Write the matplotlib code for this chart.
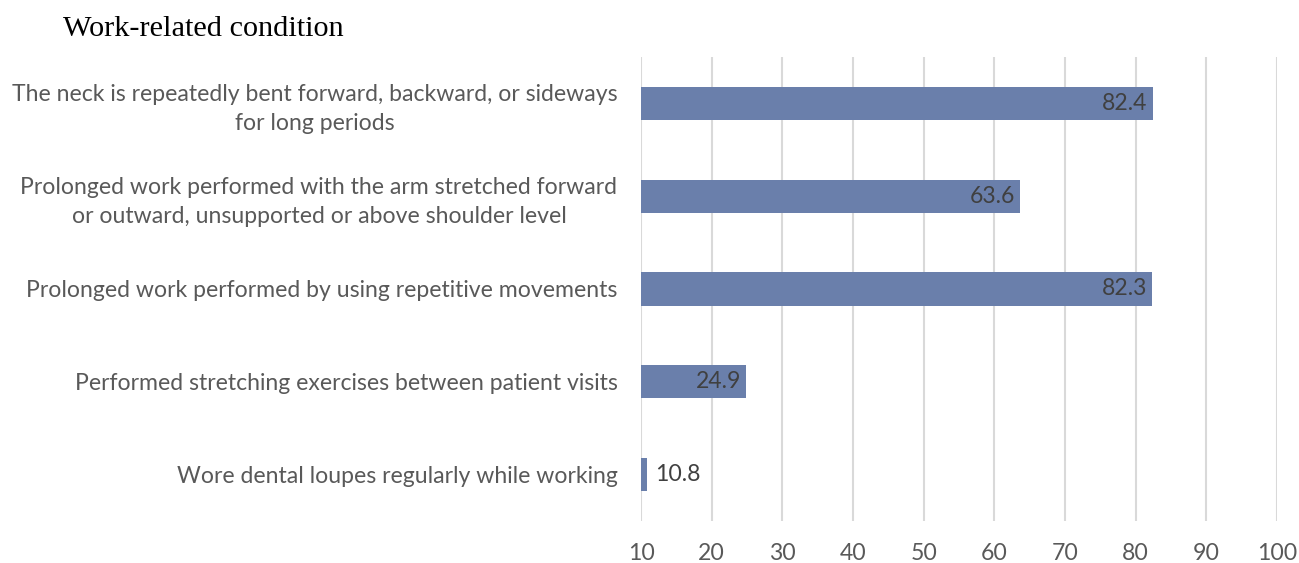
import matplotlib
matplotlib.use("Agg")
import matplotlib.pyplot as plt

categories = [
    "The neck is repeatedly bent forward, backward, or sideways\nfor long periods",
    "Prolonged work performed with the arm stretched forward\nor outward, unsupported or above shoulder level",
    "Prolonged work performed by using repetitive movements",
    "Performed stretching exercises between patient visits",
    "Wore dental loupes regularly while working",
]
values = [82.4, 63.6, 82.3, 24.9, 10.8]
xticks = [10, 20, 30, 40, 50, 60, 70, 80, 90, 100]
title = "Work-related condition"

BAR = "#6A7FAB"
GRID = "#D9D9D9"
TXT = "#595959"
LBL = "#404040"
FS = 16.6

fig = plt.figure(figsize=(12.99, 5.63), dpi=100)
ax = fig.add_axes([0.4935, 0.0746, 0.4895, 0.8242])

ypos = list(range(len(categories)))
ax.barh(ypos, [v - 10 for v in values], left=10, height=0.356, color=BAR, zorder=3)
ax.set_xlim(10, 100)
ax.set_ylim(len(categories) - 0.5, -0.5)
ax.set_xticks(xticks)
ax.set_xticklabels([str(t) for t in xticks], fontsize=FS, color=TXT, family="Lato")
ax.set_yticks(ypos)
ax.set_yticklabels(categories, fontsize=FS, color=TXT, family="Lato", ha="right",
                   multialignment="center", linespacing=1.45)
ax.tick_params(axis="y", length=0, pad=17)
ax.tick_params(axis="x", length=0, pad=16)
ax.xaxis.grid(True, color=GRID, linewidth=1.5, zorder=0)
for s in ax.spines.values():
    s.set_visible(False)

for y, v in zip(ypos, values):
    if v - 10 > 5:
        ax.text(v - 0.7, y, f"{v}", ha="right", va="center", fontsize=FS, color=LBL, family="Lato", zorder=4)
    else:
        ax.text(v + 1.2, y, f"{v}", ha="left", va="center", fontsize=FS, color=LBL, family="Lato", zorder=4)

fig.text(63 / 1299, 1 - 29 / 563, title, fontsize=21.8, family="Liberation Serif", color="black", ha="left", va="center")

fig.savefig("out.png", dpi=100)
